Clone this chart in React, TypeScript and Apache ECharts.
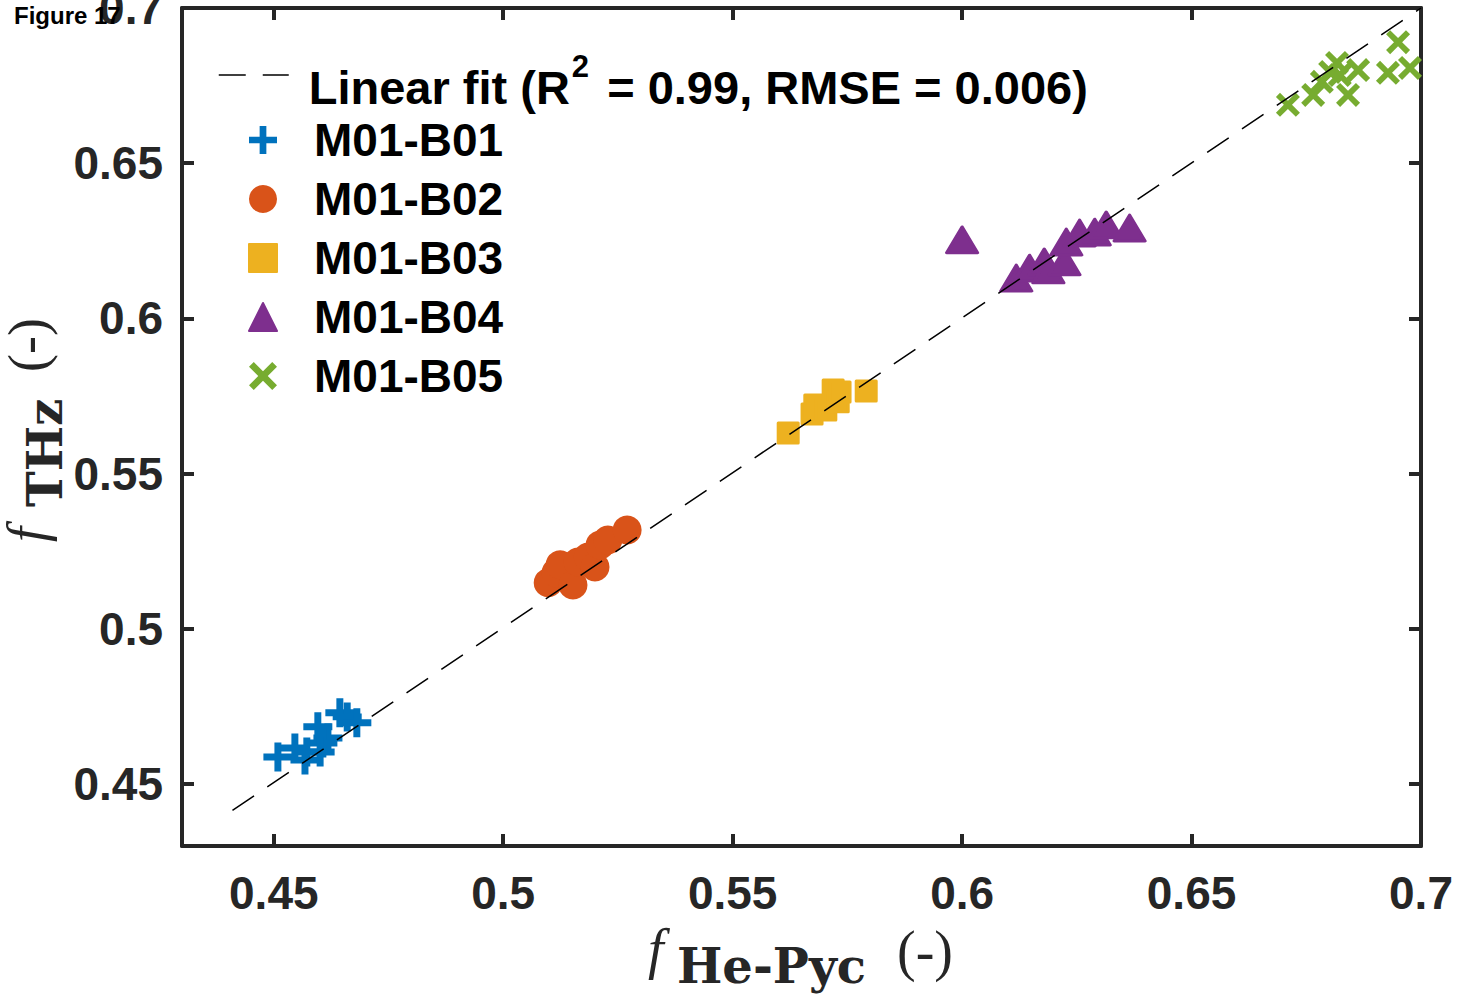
import React, { useEffect, useRef } from "react";
import * as echarts from "echarts";

// ---------- data ----------
const xTicks = [0.45, 0.5, 0.55, 0.6, 0.65, 0.7];
const yTicks = [0.45, 0.5, 0.55, 0.6, 0.65, 0.7];

const b01X = [0.4509, 0.4546, 0.4568, 0.4596, 0.4618, 0.4644, 0.466, 0.4681, 0.4607, 0.4601, 0.4572];
const b01Y = [0.4587, 0.4616, 0.4577, 0.4684, 0.4648, 0.4729, 0.4716, 0.4697, 0.4632, 0.4603, 0.4603];

const b02X = [0.5098, 0.5115, 0.5124, 0.5152, 0.5163, 0.5185, 0.52, 0.5211, 0.5228, 0.527];
const b02Y = [0.5148, 0.518, 0.5206, 0.5141, 0.5215, 0.5231, 0.5199, 0.527, 0.5286, 0.5318];

const b03X = [0.5621, 0.5673, 0.5679, 0.5703, 0.5719, 0.573, 0.5734, 0.5791];
const b03Y = [0.5631, 0.5692, 0.5721, 0.5705, 0.5769, 0.5731, 0.5763, 0.5766];

const b04X = [0.6, 0.6118, 0.6147, 0.6179, 0.6188, 0.6223, 0.6227, 0.6256, 0.6289, 0.6314, 0.6365];
const b04Y = [0.6253, 0.613, 0.6162, 0.6182, 0.6156, 0.6182, 0.6246, 0.6275, 0.6278, 0.6301, 0.6291];

const b05X = [0.671, 0.6765, 0.6784, 0.6817, 0.6823, 0.6802, 0.6841, 0.6863, 0.6928, 0.695, 0.6976];
const b05Y = [0.6688, 0.672, 0.6762, 0.6823, 0.6784, 0.6794, 0.672, 0.68, 0.6791, 0.689, 0.6807];

const fitX = [0.441, 0.7];
const fitY = [0.4415, 0.7];

const seriesNames = ["M01-B01", "M01-B02", "M01-B03", "M01-B04", "M01-B05"];
const FIT_NAME = "Linear fit";
const fitLabel = "{a|Linear fit (R}{sup|2}{a| = 0.99, RMSE = 0.006)}";

// ---------- styles ----------
const SANS = '"Liberation Sans", Arial, Helvetica, sans-serif';
const SERIF = '"Liberation Serif", "Times New Roman", serif';
const BSERIF = '"DejaVu Serif", serif';
const AX = "#262626";
const colors = ["#0072BD", "#D95319", "#EDB120", "#7E2F8E", "#77AC30"];

const PLUS = "path://M3.8,0H6.2V3.8H10V6.2H6.2V10H3.8V6.2H0V3.8H3.8Z";
const XMARK =
  "path://M0,1.7L1.7,0L5,3.3L8.3,0L10,1.7L6.7,5L10,8.3L8.3,10L5,6.7L1.7,10L0,8.3L3.3,5Z";

const zip = (xs: number[], ys: number[]) => xs.map((x, i) => [x, ys[i]]);

export default function App() {
  const ref = useRef<HTMLDivElement>(null);
  useEffect(() => {
    if (!ref.current) return;
    const chart = echarts.init(ref.current, null, { renderer: "svg" });

    const axisCommon = (show: boolean, ticks: number[], margin = 8) => ({
      type: "value" as const,
      min: 0.43,
      max: 0.7,
      splitLine: { show: false },
      axisLine: { show: true, lineStyle: { color: AX, width: 4 } },
      axisTick: {
        show: true,
        inside: true,
        length: 12,
        lineStyle: { color: AX, width: 4 },
        customValues: ticks,
      },
      axisLabel: {
        show,
        margin,
        customValues: ticks,
        fontSize: 46,
        fontWeight: "bold",
        fontFamily: SANS,
        color: AX,
        showMinLabel: true,
        showMaxLabel: true,
        formatter: (v: number) => String(v),
      },
    });

    const option: any = {
      animation: false,
      backgroundColor: "#fff",
      grid: {
        left: 182,
        right: 38,
        top: 8,
        bottom: 155,
        containLabel: false,
        outerBoundsMode: "none",
      },
      xAxis: [
        { ...axisCommon(true, xTicks, 24), position: "bottom" },
        { ...axisCommon(false, xTicks), position: "top" },
      ],
      yAxis: [
        { ...axisCommon(true, yTicks, 19), position: "left" },
        { ...axisCommon(false, yTicks), position: "right" },
      ],
      legend: [
        {
          data: [
            {
              name: FIT_NAME,
              itemStyle: { opacity: 0, color: "rgba(0,0,0,0)", borderWidth: 0 },
              lineStyle: { type: [27, 17], width: 1.5, color: "#000" },
            },
          ],
          orient: "vertical",
          left: 218,
          top: 51,
          padding: 0,
          itemWidth: 70,
          itemHeight: 28,
          selectedMode: false,
          formatter: () => fitLabel,
          textStyle: {
            padding: [12, 0, 0, 15],
            rich: {
              a: {
                fontSize: 47,
                fontWeight: "bold",
                fontFamily: SANS,
                color: "#000",
                lineHeight: 60,
                verticalAlign: "bottom",
              },
              sup: {
                fontSize: 31,
                fontWeight: "bold",
                fontFamily: SANS,
                color: "#000",
                lineHeight: 30,
                verticalAlign: "top",
                padding: [0, 5, 0, 2],
              },
            },
          },
        },
        {
          data: seriesNames,
          orient: "vertical",
          left: 248,
          top: 115,
          padding: 0,
          itemWidth: 28,
          itemHeight: 28,
          itemGap: 9,
          selectedMode: false,
          textStyle: {
            fontSize: 46,
            fontWeight: "bold",
            fontFamily: SANS,
            color: "#000",
            lineHeight: 50,
            padding: [0, 0, 0, 32],
          },
        },
      ],
      series: [
        {
          name: seriesNames[0],
          type: "scatter",
          data: zip(b01X, b01Y),
          symbol: PLUS,
          symbolSize: 29,
          itemStyle: { color: colors[0], opacity: 1 },
        },
        {
          name: seriesNames[1],
          type: "scatter",
          data: zip(b02X, b02Y),
          symbol: "circle",
          symbolSize: 29,
          itemStyle: { color: colors[1], opacity: 1 },
        },
        {
          name: seriesNames[2],
          type: "scatter",
          data: zip(b03X, b03Y),
          symbol: "rect",
          symbolSize: 20,
          itemStyle: { color: colors[2], borderColor: colors[2], borderWidth: 3, borderJoin: "round", opacity: 1 },
        },
        {
          name: seriesNames[3],
          type: "scatter",
          data: zip(b04X, b04Y),
          symbol: "triangle",
          symbolSize: [31, 26],
          itemStyle: { color: colors[3], borderColor: colors[3], borderWidth: 3, borderJoin: "round", opacity: 1 },
        },
        {
          name: seriesNames[4],
          type: "scatter",
          data: zip(b05X, b05Y),
          symbol: XMARK,
          symbolSize: 24,
          itemStyle: { color: colors[4], opacity: 1 },
        },
        {
          name: FIT_NAME,
          type: "line",
          data: zip(fitX, fitY),
          symbol: "none",
          z: 10,
          color: "#000",
          lineStyle: { color: "#000", width: 1.5, type: [26, 16] },
        },
      ],
      graphic: [
        {
          type: "text",
          x: 14,
          y: 15,
          z: 100,
          style: {
            text: "Figure 17",
            fontSize: 24,
            fontWeight: "bold",
            fontFamily: SANS,
            fill: "#000",
            align: "left",
            verticalAlign: "middle",
          },
        },
        // x-axis title: f_{He-Pyc} (-)
        {
          type: "text",
          x: 648,
          y: 949,
          style: { text: "f", fontSize: 56, fontStyle: "italic", fontFamily: SERIF, fill: AX, align: "left", verticalAlign: "middle" },
        },
        {
          type: "text",
          x: 677,
          y: 966,
          style: { text: "He-Pyc", fontSize: 48, fontWeight: "bold", fontFamily: BSERIF, fill: AX, align: "left", verticalAlign: "middle" },
        },
        {
          type: "text",
          x: 897,
          y: 951,
          style: { text: "(-)", fontSize: 56, fontFamily: SERIF, fill: AX, align: "left", verticalAlign: "middle" },
        },
        // y-axis title: f_{THz} (-)
        {
          type: "text",
          x: 27,
          y: 542,
          rotation: Math.PI / 2,
          style: { text: "f", fontSize: 54, fontStyle: "italic", fontFamily: SERIF, fill: AX, align: "left", verticalAlign: "middle" },
        },
        {
          type: "text",
          x: 45,
          y: 507,
          rotation: Math.PI / 2,
          style: { text: "THz", fontSize: 48, fontWeight: "bold", fontFamily: BSERIF, fill: AX, align: "left", verticalAlign: "middle" },
        },
        {
          type: "text",
          x: 28,
          y: 372,
          rotation: Math.PI / 2,
          style: { text: "(-)", fontSize: 54, fontFamily: SERIF, fill: AX, align: "left", verticalAlign: "middle" },
        },
      ],
    };

    chart.setOption(option);
    return () => chart.dispose();
  }, []);

  return (
    <div
      ref={ref}
      style={{ position: "absolute", left: 0, top: 0, width: 1459, height: 1001, background: "#fff" }}
    />
  );
}
